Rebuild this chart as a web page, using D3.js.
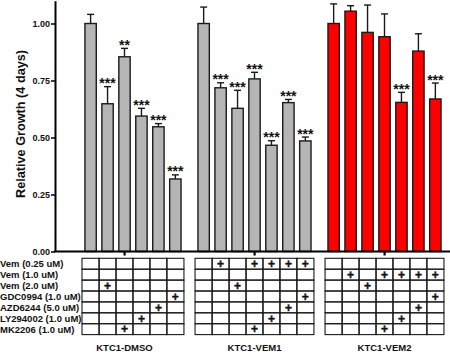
<!DOCTYPE html>
<html>
<head>
<meta charset="utf-8">
<script src="https://d3js.org/d3.v7.min.js"></script>
<style>
  body { margin: 0; background: #fff; }
  text { font-family: Arial, "Liberation Sans", sans-serif; font-weight: bold; fill: #111; }
</style>
</head>
<body>
<div id="graphContainer"></div>
<script>

// 
// data
// 
var groups = ["KTC1-DMSO", "KTC1-VEM1", "KTC1-VEM2"];

var dmsoMean = [1.00, 0.648, 0.854, 0.594, 0.547, 0.318];
var dmsoErr  = [0.040, 0.075, 0.037, 0.034, 0.014, 0.018];
var dmsoSig  = ["", "***", "**", "***", "***", "***"];

var vem1Mean = [1.00, 0.718, 0.628, 0.757, 0.466, 0.653, 0.485];
var vem1Err  = [0.072, 0.022, 0.079, 0.029, 0.020, 0.014, 0.017];
var vem1Sig  = ["", "***", "***", "***", "***", "***", "***"];

var vem2Mean = [1.00, 1.054, 0.961, 0.942, 0.654, 0.879, 0.669];
var vem2Err  = [0.086, 0.024, 0.120, 0.100, 0.044, 0.076, 0.070];
var vem2Sig  = ["", "", "", "", "***", "", "***"];

var yTicks = [0, 0.25, 0.50, 0.75, 1.00];

var rowLabels = [
    "Vem (0.25 uM)",
    "Vem (1.0 uM)",
    "Vem (2.0 uM)",
    "GDC0994 (1.0 uM)",
    "AZD6244 (5.0 uM)",
    "LY294002 (1.0 uM)",
    "MK2206 (1.0 uM)"
];

// rows marked with + for each column of each group's table
var dmsoPlus = [[], [2], [6], [5], [4], [3]];
var vem1Plus = [[], [0], [2], [0, 6], [0, 5], [0, 4], [0, 3]];
var vem2Plus = [[], [1], [2], [1, 6], [1, 5], [1, 4], [1, 3]];

// dmso has no bar in the first slot
var slotOffset = [1, 0, 0];

// 
// build the bar table
// 
var series = [
    { mean: dmsoMean, err: dmsoErr, sig: dmsoSig, plus: dmsoPlus, fill: "#b5b5b5" },
    { mean: vem1Mean, err: vem1Err, sig: vem1Sig, plus: vem1Plus, fill: "#b5b5b5" },
    { mean: vem2Mean, err: vem2Err, sig: vem2Sig, plus: vem2Plus, fill: "#ff0000" }
];

var bars = [];
series.forEach(function(s, gi) {
    s.mean.forEach(function(m, i) {
        bars.push({
            group: groups[gi],
            slot: i + slotOffset[gi],
            mean: m,
            err: s.err[i],
            sig: s.sig[i],
            plus: s.plus[i],
            fill: s.fill
        });
    });
});

var width = 450, height = 352;

var svg = d3.select("#graphContainer").append("svg")
    .attr("width", width)
    .attr("height", height);

var x0 = d3.scaleBand()
    .domain(groups)
    .range([59.5, 449.5]);

var x1 = d3.scaleBand()
    .domain(d3.range(7))
    .range([0, x0.bandwidth()])
    .paddingInner(0.33)
    .paddingOuter(0.5);

var y = d3.scaleLinear()
    .domain([0, 1.1])
    .range([251.5, 0.7]);

function barX(d) { return x0(d.group) + x1(d.slot); }
function barC(d) { return barX(d) + x1.bandwidth() / 2; }

// 
// bars, error bars, stars
// 
svg.selectAll("rect.bar")
    .data(bars)
    .enter().append("rect")
    .attr("class", "bar")
    .attr("x", barX)
    .attr("y", function(d) { return y(d.mean); })
    .attr("width", x1.bandwidth())
    .attr("height", function(d) { return y(0) - y(d.mean); })
    .attr("fill", function(d) { return d.fill; })
    .attr("stroke", "#1a1a1a")
    .attr("stroke-width", 1.4);

var eb = svg.selectAll("g.err")
    .data(bars)
    .enter().append("g")
    .attr("class", "err")
    .attr("stroke", "#1a1a1a")
    .attr("stroke-width", 1.4);

eb.append("line")
    .attr("x1", barC).attr("x2", barC)
    .attr("y1", function(d) { return y(d.mean); })
    .attr("y2", function(d) { return y(d.mean + d.err); });

eb.append("line")
    .attr("x1", function(d) { return barC(d) - 3.5; })
    .attr("x2", function(d) { return barC(d) + 3.5; })
    .attr("y1", function(d) { return y(d.mean + d.err); })
    .attr("y2", function(d) { return y(d.mean + d.err); });

svg.selectAll("text.sig")
    .data(bars.filter(function(d) { return d.sig; }))
    .enter().append("text")
    .attr("class", "sig")
    .attr("x", barC)
    .attr("y", function(d) { return y(d.mean + d.err) + 1.5; })
    .attr("text-anchor", "middle")
    .style("font-size", "14px")
    .text(function(d) { return d.sig; });

// 
// axes
// 
var yAxis = d3.axisLeft(y)
    .tickValues(yTicks)
    .tickFormat(d3.format(".2f"))
    .tickSize(4)
    .tickSizeOuter(0);

var gy = svg.append("g")
    .attr("transform", "translate(55,0)")
    .call(yAxis);

gy.select(".domain").attr("stroke", "#000").attr("stroke-width", 2);
gy.selectAll(".tick line").attr("stroke", "#000").attr("stroke-width", 1.5);
gy.selectAll(".tick text")
    .attr("x", -5)
    .style("font-size", "9px")
    .style("font-family", "Arial, 'Liberation Sans', sans-serif")
    .style("font-weight", "bold")
    .attr("fill", "#111");

svg.append("line")
    .attr("x1", 54).attr("x2", 450)
    .attr("y1", y(0)).attr("y2", y(0))
    .attr("stroke", "#000")
    .attr("stroke-width", 2);

// small group ticks under the x axis
svg.selectAll("rect.gtick")
    .data(groups)
    .enter().append("rect")
    .attr("class", "gtick")
    .attr("x", function(g) { return x0(g) + x0.bandwidth() / 2 - 1; })
    .attr("y", y(0))
    .attr("width", 2.2)
    .attr("height", 4)
    .attr("fill", "#000");

svg.append("text")
    .attr("transform", "translate(25,124) rotate(-90)")
    .attr("text-anchor", "middle")
    .style("font-size", "12.7px")
    .text("Relative Growth (4 days)");

// 
// treatment table under the bars
// 
var rowTop = 258.3, rowH = 10.9, colW = 17.2;

var cells = [];
bars.forEach(function(d) {
    rowLabels.forEach(function(r, ri) {
        cells.push({ bar: d, row: ri, on: d.plus.indexOf(ri) >= 0 });
    });
});

svg.selectAll("rect.cell")
    .data(cells)
    .enter().append("rect")
    .attr("class", "cell")
    .attr("x", function(c) { return barC(c.bar) - colW / 2; })
    .attr("y", function(c) { return rowTop + c.row * rowH; })
    .attr("width", colW)
    .attr("height", rowH)
    .attr("fill", "none")
    .attr("stroke", "#1a1a1a")
    .attr("stroke-width", 1.1);

svg.selectAll("text.plus")
    .data(cells.filter(function(c) { return c.on; }))
    .enter().append("text")
    .attr("class", "plus")
    .attr("x", function(c) { return barC(c.bar); })
    .attr("y", function(c) { return rowTop + c.row * rowH + rowH / 2; })
    .attr("dy", "0.36em")
    .attr("text-anchor", "middle")
    .style("font-size", "12px")
    .style("font-weight", "900")
    .style("stroke", "#111")
    .style("stroke-width", 0.4)
    .text("+");

svg.selectAll("text.rowlab")
    .data(rowLabels)
    .enter().append("text")
    .attr("class", "rowlab")
    .attr("x", 0)
    .attr("y", function(r, i) { return rowTop + i * rowH + rowH / 2; })
    .attr("dy", "0.36em")
    .style("font-size", "9.5px")
    .text(function(r) { return r; });

svg.selectAll("text.glab")
    .data(groups)
    .enter().append("text")
    .attr("class", "glab")
    .attr("x", function(g) { return x0(g) + x0.bandwidth() / 2; })
    .attr("y", 350.5)
    .attr("text-anchor", "middle")
    .style("font-size", "9.5px")
    .text(function(g) { return g; });

</script>
</body>
</html>
